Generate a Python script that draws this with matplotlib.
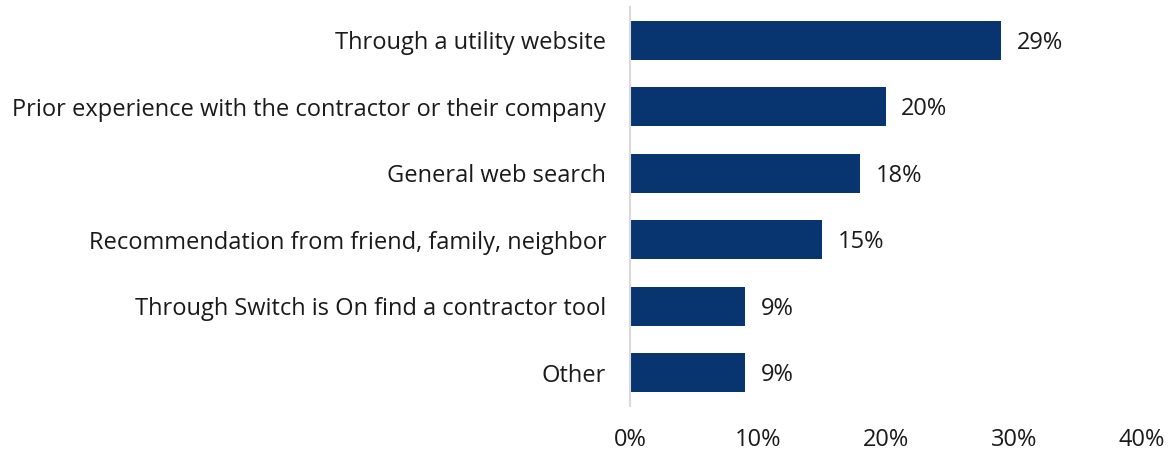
import matplotlib
matplotlib.use("Agg")
import matplotlib.pyplot as plt

categories = [
    "Through a utility website",
    "Prior experience with the contractor or their company",
    "General web search",
    "Recommendation from friend, family, neighbor",
    "Through Switch is On find a contractor tool",
    "Other",
]
shares = [29, 20, 18, 15, 9, 9]
x_ticks = [0, 10, 20, 30, 40]

BAR_COLOR = "#08356F"
TEXT_COLOR = "#1a1a1a"
FS = 17

plt.rcParams["font.family"] = ["Open Sans", "DejaVu Sans"]

fig = plt.figure(figsize=(11.72, 4.53), dpi=100)
ax = fig.add_axes([0.5375, 0.104, 0.4369, 0.8805])

ypos = list(range(len(categories)))
ax.barh(ypos, shares, height=0.59, color=BAR_COLOR)
for y, v in zip(ypos, shares):
    ax.text(v + 1.2, y + 0.04, f"{v}%", va="center", ha="left", fontsize=FS, color=TEXT_COLOR)

ax.set_xlim(0, 40)
ax.set_ylim(len(categories) - 0.5, -0.5)
ax.set_yticks(ypos)
ax.set_yticklabels(categories, fontsize=FS, color=TEXT_COLOR)
ax.set_xticks(x_ticks)
ax.set_xticklabels([f"{t}%" for t in x_ticks], fontsize=FS, color=TEXT_COLOR)
ax.tick_params(axis="y", length=0, pad=17)
ax.tick_params(axis="x", length=0, pad=16)

for side in ("top", "right", "bottom"):
    ax.spines[side].set_visible(False)
ax.spines["left"].set_color("#d9d9d9")
ax.spines["left"].set_linewidth(1.5)

fig.savefig("out.png", dpi=100)
